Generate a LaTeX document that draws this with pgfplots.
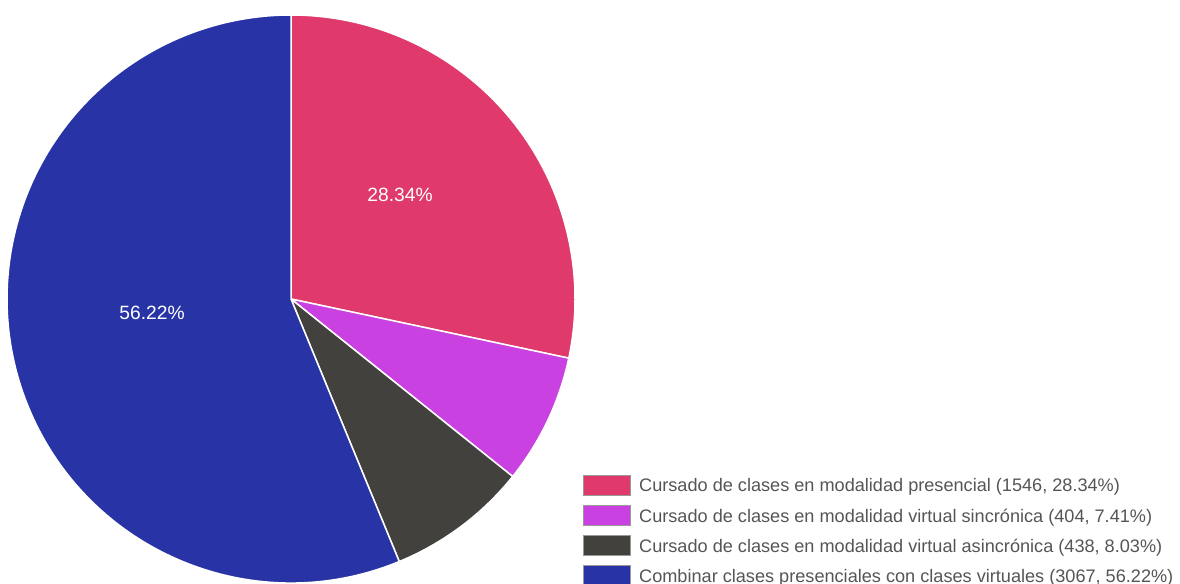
\documentclass[border=0pt]{standalone}
\usepackage{fontspec}
\setmainfont{Liberation Sans}
\usepackage{pgfplots}
\usepackage{pgfplotstable}
\pgfplotsset{compat=1.18}

\definecolor{cPres}{HTML}{E0396B}
\definecolor{cSinc}{HTML}{C941E1}
\definecolor{cAsinc}{HTML}{42413D}
\definecolor{cComb}{HTML}{2834A6}
\definecolor{legtext}{HTML}{555555}

% counts per answer
\pgfplotstableread{
value
1546
404
438
3067
}\piedata

\begin{document}
\begin{tikzpicture}
\pgfplotstablegetelem{0}{value}\of\piedata \let\va\pgfplotsretval
\pgfplotstablegetelem{1}{value}\of\piedata \let\vb\pgfplotsretval
\pgfplotstablegetelem{2}{value}\of\piedata \let\vc\pgfplotsretval
\pgfplotstablegetelem{3}{value}\of\piedata \let\vd\pgfplotsretval
\pgfmathsetmacro\total{\va+\vb+\vc+\vd}
\pgfmathsetmacro\aA{90}
\pgfmathsetmacro\aB{\aA-360*(\va/\total)}
\pgfmathsetmacro\aC{\aB-360*(\vb/\total)}
\pgfmathsetmacro\aD{\aC-360*(\vc/\total)}
\pgfmathsetmacro\aE{-270}
\def\R{284bp}
\begin{axis}[
    hide axis,
    scale only axis,
    width=1180bp, height=584bp,
    xmin=0, xmax=1180, ymin=0, ymax=584,
    clip=false,
]
\fill[cPres, draw=white, line width=1.5bp] (axis cs:291,285) -- ++(\aA:\R) arc[start angle=\aA, end angle=\aB, radius=\R] -- cycle;
\fill[cSinc, draw=white, line width=1.5bp] (axis cs:291,285) -- ++(\aB:\R) arc[start angle=\aB, end angle=\aC, radius=\R] -- cycle;
\fill[cAsinc, draw=white, line width=1.5bp] (axis cs:291,285) -- ++(\aC:\R) arc[start angle=\aC, end angle=\aD, radius=\R] -- cycle;
\fill[cComb, draw=white, line width=1.5bp] (axis cs:291,285) -- ++(\aD:\R) arc[start angle=\aD, end angle=\aE, radius=\R] -- cycle;

\node[white, anchor=base, font=\fontsize{19.3}{21}\selectfont] at (axis cs:400,382) {28.34\%};
\node[white, anchor=base, font=\fontsize{19.3}{21}\selectfont] at (axis cs:152,264) {56.22\%};

% legend
\filldraw[fill=cPres, draw=gray!80, line width=0.8bp] (axis cs:583,89) rectangle (axis cs:630,109);
\filldraw[fill=cSinc, draw=gray!80, line width=0.8bp] (axis cs:583,59) rectangle (axis cs:630,79);
\filldraw[fill=cAsinc, draw=gray!80, line width=0.8bp] (axis cs:583,29) rectangle (axis cs:630,49);
\filldraw[fill=cComb, draw=gray!80, line width=0.8bp] (axis cs:583,-1) rectangle (axis cs:630,19);
\begin{scope}[every node/.style={anchor=base west, inner sep=0pt, text=legtext, font=\fontsize{18.2}{20}\selectfont}]
\node at (axis cs:639,92) {Cursado de clases en modalidad presencial (1546, 28.34\%)};
\node at (axis cs:639,62) {Cursado de clases en modalidad virtual sincrónica (404, 7.41\%)};
\node at (axis cs:639,32) {Cursado de clases en modalidad virtual asincrónica (438, 8.03\%)};
\node at (axis cs:639,2) {Combinar clases presenciales con clases virtuales (3067, 56.22\%)};
\end{scope}
\end{axis}
\pgfresetboundingbox
\useasboundingbox (0,0) rectangle (1180bp,584bp);
\end{tikzpicture}
\end{document}
